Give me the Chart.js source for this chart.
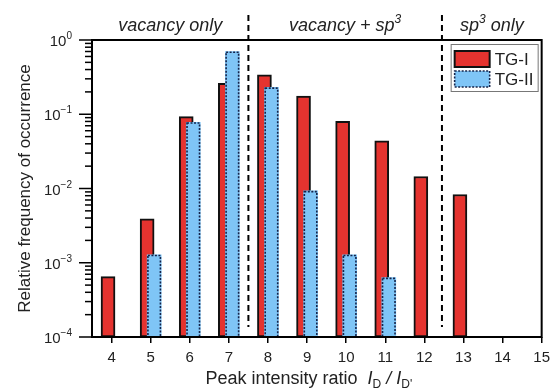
<!DOCTYPE html>
<html>
<head>
<meta charset="utf-8">
<script src="https://cdn.jsdelivr.net/npm/chart.js@4.4.1/dist/chart.umd.min.js"></script>
<style>
  html, body { margin: 0; padding: 0; background: #fff; }
  #grafico { display: block; }
</style>
</head>
<body>
<canvas id="grafico" width="556" height="391"></canvas>
<script>
// Razão de intensidade dos picos (eixo x)
const categorias = [4, 5, 6, 7, 8, 9, 10, 11, 12, 13, 14, 15];
// Frequência relativa de ocorrência por série
const valoresTG1 = [0.00065, 0.0039, 0.093, 0.26, 0.34, 0.175, 0.08, 0.044, 0.0145, 0.0083, null, null];
const valoresTG2 = [null, 0.00128, 0.078, 0.70, 0.23, 0.0093, 0.00128, 0.00063, null, null, null, null];
const nomesSeries = ['TG-I', 'TG-II'];
// Expoentes das marcas principais do eixo y (10^n)
const expoentesY = [-4, -3, -2, -1, 0];
// Limites das regiões e seus rótulos
const limitesRegioes = [3.5, 7.5, 12.45, 15];
const rotulosRegioes = [
    [{ t: 'vacancy only' }],
    [{ t: 'vacancy + sp' }, { t: '3', sup: true }],
    [{ t: 'sp' }, { t: '3', sup: true }, { t: ' only' }]
];

const FONTE = "'Liberation Sans', Arial, Helvetica, sans-serif";
const VERMELHO = '#e5332f';
const AZUL = '#7fc5f6';
const AZUL_BORDA = '#14234a';

// Escreve um texto formado por partes (normal, sobrescrito, subscrito, itálico)
function escreverPartes(ctx, partes, x, y, tamanho, alinhamento) {
    const fonte = (p) => `${p.it ? 'italic ' : ''}${(p.sup || p.sub) ? Math.round(tamanho * 0.68) : tamanho}px ${FONTE}`;
    let total = 0;
    partes.forEach(p => {
        ctx.font = fonte(p);
        p.w = ctx.measureText(p.t).width;
        total += p.w;
    });
    let inicio = x;
    if (alinhamento === 'center') inicio = x - total / 2;
    if (alinhamento === 'right') inicio = x - total;
    ctx.textAlign = 'left';
    ctx.textBaseline = 'middle';
    partes.forEach(p => {
        ctx.font = fonte(p);
        let dy = 0;
        if (p.sup) dy = -tamanho * 0.38;
        if (p.sub) dy = tamanho * 0.32;
        ctx.fillText(p.t, inicio, y + dy);
        inicio += p.w;
    });
}

const pluginDesenhos = {
    id: 'desenhos',
    afterDatasetsDraw(chart) {
        const ctx = chart.ctx;
        const area = chart.chartArea;
        const escalaX = chart.scales.x;
        const escalaY = chart.scales.y;
        ctx.save();

        // Borda pontilhada das barras TG-II
        const meta = chart.getDatasetMeta(1);
        ctx.setLineDash([2, 1.5]);
        ctx.strokeStyle = AZUL_BORDA;
        ctx.lineWidth = 1.6;
        meta.data.forEach(el => {
            const { x, y, base, width } = el.getProps(['x', 'y', 'base', 'width'], true);
            ctx.strokeRect(x - width / 2 + 0.75, y + 0.75, width - 1.5, base - y - 0.75);
        });
        ctx.setLineDash([]);

        // Moldura do gráfico
        ctx.strokeStyle = '#000';
        ctx.lineWidth = 2;
        ctx.strokeRect(area.left, area.top, area.right - area.left, area.bottom - area.top);

        // Marcas do eixo y (principais e secundárias)
        ctx.lineWidth = 1.5;
        ctx.fillStyle = '#222';
        expoentesY.forEach(e => {
            for (let m = 1; m <= 9; m++) {
                const v = m * Math.pow(10, e);
                if (v > 1.0001) break;
                const py = escalaY.getPixelForValue(v);
                const comp = m === 1 ? 13 : 7;
                ctx.beginPath();
                ctx.moveTo(area.left - comp, py);
                ctx.lineTo(area.left, py);
                ctx.stroke();
            }
            const py = escalaY.getPixelForValue(Math.pow(10, e));
            const expoente = e === 0 ? '0' : '\u2212' + Math.abs(e);
            escreverPartes(ctx, [{ t: '10' }, { t: expoente, sup: true }], area.left - 20, py + 2, 15, 'right');
        });

        // Linhas tracejadas que separam as regiões
        ctx.setLineDash([6, 4]);
        ctx.lineWidth = 2;
        limitesRegioes.slice(1, -1).forEach(lim => {
            const px = escalaX.getPixelForValue(lim);
            ctx.beginPath();
            ctx.moveTo(px, 15);
            ctx.lineTo(px, area.bottom - 10);
            ctx.stroke();
        });
        ctx.setLineDash([]);

        // Rótulos das regiões
        rotulosRegioes.forEach((partes, i) => {
            const centro = (escalaX.getPixelForValue(limitesRegioes[i]) + escalaX.getPixelForValue(limitesRegioes[i + 1])) / 2;
            escreverPartes(ctx, partes.map(p => ({ ...p, it: true })), centro, 26, 18, 'center');
        });

        // Legenda
        const lx = area.right - 91, ly = area.top + 4;
        ctx.fillStyle = '#fff';
        ctx.fillRect(lx, ly, 87, 47);
        ctx.strokeStyle = '#777';
        ctx.lineWidth = 1;
        ctx.strokeRect(lx + 0.5, ly + 0.5, 87, 47);
        ctx.fillStyle = VERMELHO;
        ctx.fillRect(lx + 4, ly + 7, 35, 16);
        ctx.strokeStyle = '#111';
        ctx.lineWidth = 2;
        ctx.strokeRect(lx + 4, ly + 7, 35, 16);
        ctx.fillStyle = AZUL;
        ctx.fillRect(lx + 4, ly + 27, 35, 16);
        ctx.setLineDash([2, 1.5]);
        ctx.strokeStyle = AZUL_BORDA;
        ctx.lineWidth = 1.6;
        ctx.strokeRect(lx + 4, ly + 27, 35, 16);
        ctx.setLineDash([]);
        ctx.fillStyle = '#222';
        escreverPartes(ctx, [{ t: nomesSeries[0] }], lx + 44, ly + 16, 17, 'left');
        escreverPartes(ctx, [{ t: nomesSeries[1] }], lx + 44, ly + 36, 17, 'left');

        // Título do eixo x
        ctx.fillStyle = '#222';
        const meio = (area.left + area.right) / 2 - 8;
        escreverPartes(ctx, [
            { t: 'Peak intensity ratio  ' },
            { t: 'I', it: true }, { t: 'D', sub: true },
            { t: ' / ', it: true },
            { t: 'I', it: true }, { t: "D'", sub: true }
        ], meio, 379, 18, 'center');

        // Título do eixo y
        ctx.save();
        ctx.translate(25, (area.top + area.bottom) / 2);
        ctx.rotate(-Math.PI / 2);
        escreverPartes(ctx, [{ t: 'Relative frequency of occurrence' }], 0, 0, 17, 'center');
        ctx.restore();

        ctx.restore();
    }
};

const ctx = document.getElementById('grafico').getContext('2d');
new Chart(ctx, {
    type: 'bar',
    data: {
        datasets: [{
            label: nomesSeries[0],
            data: categorias.map((c, i) => ({ x: c - 0.09, y: valoresTG1[i] })).filter(p => p.y !== null),
            backgroundColor: VERMELHO,
            borderColor: '#111',
            borderWidth: 2,
            borderSkipped: false,
            barThickness: 14,
            grouped: false,
            order: 2
        }, {
            label: nomesSeries[1],
            data: categorias.map((c, i) => ({ x: c + 0.09, y: valoresTG2[i] })).filter(p => p.y !== null),
            backgroundColor: AZUL,
            borderWidth: 0,
            barThickness: 14,
            grouped: false,
            order: 1
        }]
    },
    options: {
        responsive: false,
        animation: false,
        devicePixelRatio: 1,
        layout: { padding: { top: 40, right: 7, left: 0, bottom: 0 } },
        plugins: {
            legend: { display: false },
            tooltip: { enabled: false }
        },
        scales: {
            x: {
                type: 'linear',
                min: 3.5,
                max: 15,
                offset: false,
                afterBuildTicks: (escala) => {
                    escala.ticks = categorias.map(v => ({ value: v }));
                },
                afterFit: (escala) => { escala.height = 54; },
                grid: {
                    offset: false,
                    drawOnChartArea: false,
                    drawTicks: true,
                    tickLength: 6,
                    color: '#000',
                    lineWidth: 1.5
                },
                border: { display: false },
                ticks: {
                    color: '#222',
                    padding: 6,
                    maxRotation: 0,
                    autoSkip: false,
                    font: { family: FONTE, size: 15 }
                }
            },
            y: {
                type: 'logarithmic',
                min: 1e-4,
                max: 1,
                afterFit: (escala) => { escala.width = 92; },
                grid: { display: false },
                border: { display: false },
                ticks: { display: false }
            }
        }
    },
    plugins: [pluginDesenhos]
});
</script>
</body>
</html>
